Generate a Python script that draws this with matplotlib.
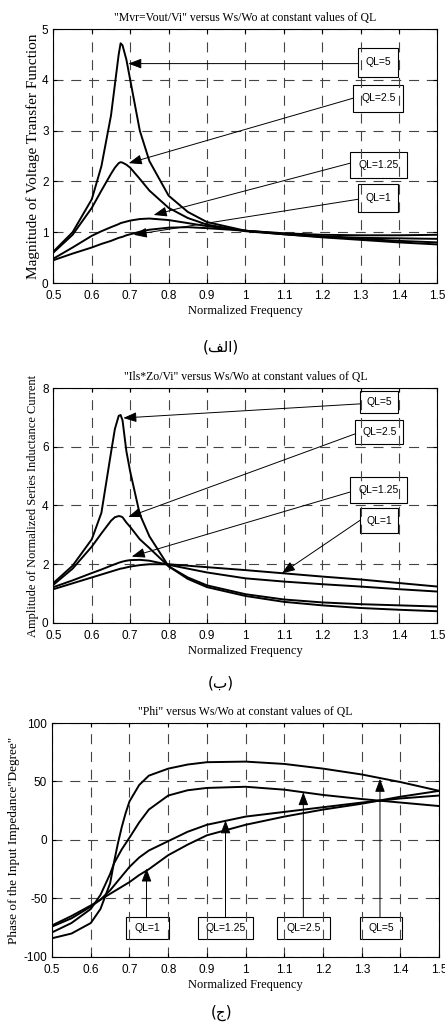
import matplotlib
matplotlib.use("Agg")
import matplotlib.pyplot as plt
from matplotlib.patches import Rectangle

# normalized frequency grid shared by the three panels
freq = [0.5, 0.55, 0.6, 0.625, 0.65, 0.66, 0.67, 0.675, 0.68, 0.69, 0.7,
        0.725, 0.75, 0.8, 0.85, 0.9, 1.0, 1.1, 1.2, 1.3, 1.4, 1.5]
ql_names = ["QL=5", "QL=2.5", "QL=1.25", "QL=1"]

# (a) Mvr = Vout/Vi
mvr_q5   = [0.62, 1.0, 1.65, 2.3, 3.3, 3.9, 4.5, 4.72, 4.68, 4.4, 4.0,
            3.0, 2.4, 1.72, 1.4, 1.2, 1.03, 0.96, 0.9, 0.85, 0.8, 0.76]
mvr_q25  = [0.6, 0.95, 1.48, 1.82, 2.15, 2.27, 2.36, 2.38, 2.37, 2.33, 2.27,
            2.05, 1.82, 1.48, 1.28, 1.15, 1.02, 0.96, 0.91, 0.87, 0.83, 0.8]
mvr_q125 = [0.48, 0.7, 0.93, 1.02, 1.1, 1.13, 1.16, 1.18, 1.19, 1.21, 1.23,
            1.26, 1.27, 1.24, 1.18, 1.12, 1.03, 0.97, 0.92, 0.89, 0.88, 0.87]
mvr_q1   = [0.45, 0.58, 0.7, 0.77, 0.83, 0.86, 0.89, 0.9, 0.91, 0.94, 0.96,
            1.01, 1.05, 1.09, 1.1, 1.08, 1.03, 0.98, 0.95, 0.94, 0.94, 0.95]

# (b) Ils*Zo/Vi
ils_q5   = [1.36, 1.95, 2.85, 3.75, 5.8, 6.6, 7.05, 7.08, 6.9, 5.85, 5.15,
            3.7, 2.95, 1.93, 1.5, 1.22, 0.92, 0.72, 0.6, 0.51, 0.45, 0.4]
ils_q25  = [1.3, 1.85, 2.6, 3.05, 3.48, 3.6, 3.64, 3.63, 3.6, 3.42, 3.27,
            2.85, 2.55, 1.93, 1.55, 1.28, 0.98, 0.8, 0.7, 0.64, 0.6, 0.56]
ils_q125 = [1.22, 1.45, 1.7, 1.82, 1.95, 2.0, 2.05, 2.07, 2.09, 2.12, 2.14,
            2.15, 2.12, 1.98, 1.85, 1.72, 1.52, 1.41, 1.32, 1.24, 1.15, 1.07]
ils_q1   = [1.15, 1.35, 1.55, 1.65, 1.75, 1.79, 1.83, 1.85, 1.86, 1.89, 1.92,
            1.97, 2.0, 2.0, 1.95, 1.9, 1.8, 1.69, 1.58, 1.48, 1.36, 1.24]

# (c) Phi, degree
phi_q5   = [-84, -80, -71, -59, -37, -19, -3, 4, 11, 23, 33,
            47, 55, 61, 64.5, 66.5, 67, 65, 61, 56, 49.5, 42]
phi_q25  = [-79, -71, -59, -47, -29, -20, -14, -11, -8, -3, 2,
            15, 26, 38, 42.5, 44.5, 45.5, 43, 38.5, 35, 32, 29]
phi_q125 = [-74, -67, -57, -51, -43, -39, -35, -33, -31, -27, -23,
            -15, -9, -1, 7, 13, 20, 24, 28, 32, 35.5, 38]
phi_q1   = [-73, -65, -56, -51, -46, -44, -42, -41, -40, -38, -36,
            -30, -25, -13, -4, 4, 13, 20, 26, 31, 37, 42]

SERIF = ["Liberation Serif", "DejaVu Serif"]
NARROW = ["Liberation Sans Narrow", "Liberation Sans", "DejaVu Sans"]

plt.rcParams.update({
    "font.family": NARROW, "font.size": 8.5,
    "axes.unicode_minus": False,
    "xtick.direction": "in", "ytick.direction": "in",
    "xtick.top": True, "ytick.right": True,
    "xtick.major.size": 3, "ytick.major.size": 3,
    "xtick.major.pad": 5,
    "axes.linewidth": 0.8,
})

fig = plt.figure(figsize=(4.45, 10.27), dpi=100)


def panel(rect, series, ylim, yticks, title, ylabel, ylab_x, ylab_fs):
    ax = fig.add_axes(rect)
    for s in series:
        ax.plot(freq, s, color="black", lw=1.4)
    ax.set_xlim(0.5, 1.5)
    ax.set_ylim(*ylim)
    ax.set_xticks([0.5, 0.6, 0.7, 0.8, 0.9, 1, 1.1, 1.2, 1.3, 1.4, 1.5])
    ax.set_xticklabels(["0.5", "0.6", "0.7", "0.8", "0.9", "1", "1.1",
                        "1.2", "1.3", "1.4", "1.5"])
    ax.set_yticks(yticks)
    ax.grid(True, color="#444444", lw=0.8, linestyle=(0, (9, 7)))
    ax.set_title(title, family=SERIF, fontsize=8.5, pad=6)
    ax.set_xlabel("Normalized Frequency", family=SERIF, fontsize=9, labelpad=2)
    ax.set_ylabel(ylabel, family=SERIF, fontsize=ylab_fs)
    ax.yaxis.set_label_coords(ylab_x, 0.5)
    return ax


def boxes(ax, specs, fs=7.5):
    # specs: label, (x0, x1, y0, y1) of the box, arrow start, arrow tip
    for name, (x0, x1, y0, y1), start, tip in specs:
        ax.add_patch(Rectangle((x0, y0), x1 - x0, y1 - y0, fill=False,
                               ec="black", lw=0.8, clip_on=False))
        ax.text((x0 + x1) / 2, (y0 + y1) / 2, name, ha="center", va="center",
                fontsize=fs)
        ax.annotate("", xy=tip, xytext=start,
                    arrowprops=dict(arrowstyle="-|>,head_length=0.8,head_width=0.3",
                                    color="black", lw=0.7, mutation_scale=10,
                                    shrinkA=0, shrinkB=0))


ax1 = panel([0.120, 0.7244, 0.863, 0.2473],
            [mvr_q5, mvr_q25, mvr_q125, mvr_q1], (0, 5), [0, 1, 2, 3, 4, 5],
            '"Mvr=Vout/Vi" versus Ws/Wo at constant values of QL',
            "Magnitude of Voltage Transfer Function",
            -0.034, 11)
boxes(ax1, [
    (ql_names[0], (1.294, 1.398, 4.06, 4.63), (1.294, 4.32), (0.695, 4.32)),
    (ql_names[1], (1.281, 1.411, 3.37, 3.90), (1.281, 3.64), (0.696, 2.36)),
    (ql_names[2], (1.273, 1.422, 2.07, 2.58), (1.273, 2.36), (0.761, 1.34)),
    (ql_names[3], (1.294, 1.398, 1.39, 1.94), (1.294, 1.65), (0.709, 0.95)),
])

ax2 = panel([0.120, 0.3934, 0.863, 0.2288],
            [ils_q5, ils_q25, ils_q125, ils_q1], (0, 8), [0, 2, 4, 6, 8],
            '"Ils*Zo/Vi" versus Ws/Wo at constant values of QL',
            "Amplitude of Normalized Series Inductance Current",
            -0.038, 9)
boxes(ax2, [
    (ql_names[0], (1.299, 1.398, 7.15, 7.91), (1.299, 7.46), (0.682, 6.98)),
    (ql_names[1], (1.286, 1.411, 6.11, 6.92), (1.286, 6.44), (0.695, 3.61)),
    (ql_names[2], (1.273, 1.422, 4.08, 4.96), (1.273, 4.46), (0.704, 2.26)),
    (ql_names[3], (1.299, 1.398, 3.06, 3.91), (1.299, 3.50), (1.095, 1.69)),
])

ax3 = panel([0.117, 0.0682, 0.870, 0.2278],
            [phi_q5, phi_q25, phi_q125, phi_q1], (-100, 100),
            [-100, -50, 0, 50, 100],
            '"Phi" versus Ws/Wo at constant values of QL',
            'Phase of the Input Impedance"Degree"',
            -0.083, 9.5)
boxes(ax3, [
    (ql_names[3], (0.692, 0.802, -84.9, -66.2), (0.744, -66.2), (0.744, -24.4)),
    (ql_names[2], (0.877, 1.019, -84.9, -66.2), (0.948, -66.2), (0.948, 16.8)),
    (ql_names[1], (1.082, 1.218, -84.9, -66.2), (1.149, -66.2), (1.149, 40.9)),
    (ql_names[0], (1.295, 1.405, -84.9, -66.2), (1.347, -66.2), (1.347, 52.3)),
])

# panel captions (Arabic letters written in visual order)
captions = ["(\ufed2\ufedf\ufe8d)", "(\u0628)", "(\u062c)"]
for cy, cap in zip([0.662, 0.335, 0.0136], captions):
    fig.text(0.497, cy, cap, ha="center", va="center", fontsize=11,
             family=["DejaVu Sans"])

fig.savefig("out.png", dpi=100)
